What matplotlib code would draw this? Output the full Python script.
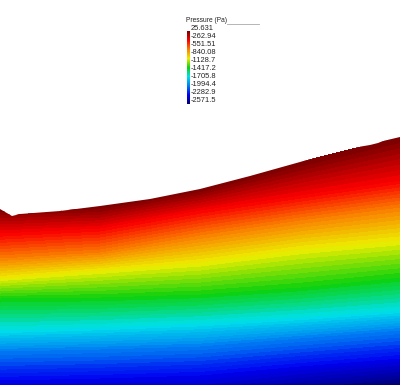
import numpy as np
import matplotlib
matplotlib.use("Agg")
import matplotlib.pyplot as plt
from matplotlib.colors import LinearSegmentedColormap, Normalize
from matplotlib.patches import Polygon
import matplotlib.cm as cm

plt.rcParams['font.family'] = ['Liberation Sans', 'DejaVu Sans']

# ---- data (pixel-space geometry of the domain) ----
p_max = 25.631
p_min = -2571.5
tick_labels = ["25.631", "-262.94", "-551.51", "-840.08", "-1128.7",
               "-1417.2", "-1705.8", "-1994.4", "-2282.9", "-2571.5"]
tick_values = [25.631, -262.94, -551.51, -840.08, -1128.7,
               -1417.2, -1705.8, -1994.4, -2282.9, -2571.5]

surface_x = [0, 12, 20, 60, 100, 150, 200, 250, 300, 340, 370, 378, 383, 400]
surface_y = [209, 216, 214, 211, 206, 199, 189, 176, 162, 150, 145, 143, 141, 137]
bottom_y = 385

column_x = [0, 100, 200, 300, 400]
# pressure of each iso-row (surface first)
level_p = [25.631, -299.0, -623.7, -948.2, -1272.9, -1597.6, -1922.2, -2246.9]
# pixel row of each iso-row in each column
level_y = [
    [209, 206, 189, 162, 137],
    [233, 228, 210, 195, 180],
    [258, 252, 235, 220, 207],
    [278, 270, 262, 249, 240],
    [298, 297, 294, 287, 277],
    [330, 327, 323, 317, 310],
    [351, 349, 346, 338, 330],
    [380, 378, 375, 366, 358],
]
bottom_p = [-2290, -2310, -2330, -2450, -2571.5]

# ---- figure ----
W, H = 400, 387
fig = plt.figure(figsize=(W / 100, H / 100), dpi=100)
ax = fig.add_axes([0, 0, 1, 1])
ax.set_xlim(0, W)
ax.set_ylim(H, 0)
ax.axis('off')

cmap = LinearSegmentedColormap.from_list("pv_jet", [
    (0.0, (0.0, 0.0, 0.45)),
    (0.125, (0.0, 0.0, 0.95)),
    (0.25, (0.0, 0.5, 0.95)),
    (0.375, (0.0, 0.88, 0.92)),
    (0.5, (0.05, 0.82, 0.05)),
    (0.625, (0.93, 0.93, 0.0)),
    (0.75, (0.98, 0.5, 0.0)),
    (0.875, (0.98, 0.0, 0.0)),
    (1.0, (0.48, 0.0, 0.0)),
])
norm = Normalize(vmin=p_min, vmax=p_max)

X = np.array([column_x] * (len(level_y) + 1), dtype=float)
Y = np.array(level_y + [[bottom_y] * len(column_x)], dtype=float)
Z = np.array([[p] * len(column_x) for p in level_p] + [bottom_p], dtype=float)

levels = np.linspace(p_min, p_max, 65)
cs = ax.contourf(X, Y, Z, levels=levels, cmap=cmap, norm=norm, extend='both')

poly = Polygon(list(zip(surface_x, surface_y)) + [(400, bottom_y), (0, bottom_y)],
               closed=True, transform=ax.transData, facecolor='none', edgecolor='none')
ax.add_patch(poly)
cs.set_clip_path(poly)

# ---- color legend ----
cax = fig.add_axes([186.5 / W, 1 - 104 / H, 3.5 / W, 73 / H])
sm = cm.ScalarMappable(norm=norm, cmap=cmap)
cb = fig.colorbar(sm, cax=cax, ticks=[])
cb.outline.set_visible(False)

# labels laid out from top (25.631) to bottom (-2571.5)
lab_top, lab_bot = 28.5, 100.5
for v, s in zip(tick_values, tick_labels):
    frac = (p_max - v) / (p_max - p_min)
    ypix = lab_top + frac * (lab_bot - lab_top)
    fig.text(191 / W, 1 - ypix / H, s, fontsize=5.4, color='#222222',
             ha='left', va='center')

fig.text(186 / W, 1 - 20 / H, "Pressure (Pa)", fontsize=4.8, color='#222222',
         ha='left', va='center')
fig.add_artist(plt.Line2D([227 / W, 259 / W], [1 - 24 / H, 1 - 24 / H],
                          color='#aaaaaa', lw=0.6, transform=fig.transFigure))

fig.savefig("out.png", dpi=100)
